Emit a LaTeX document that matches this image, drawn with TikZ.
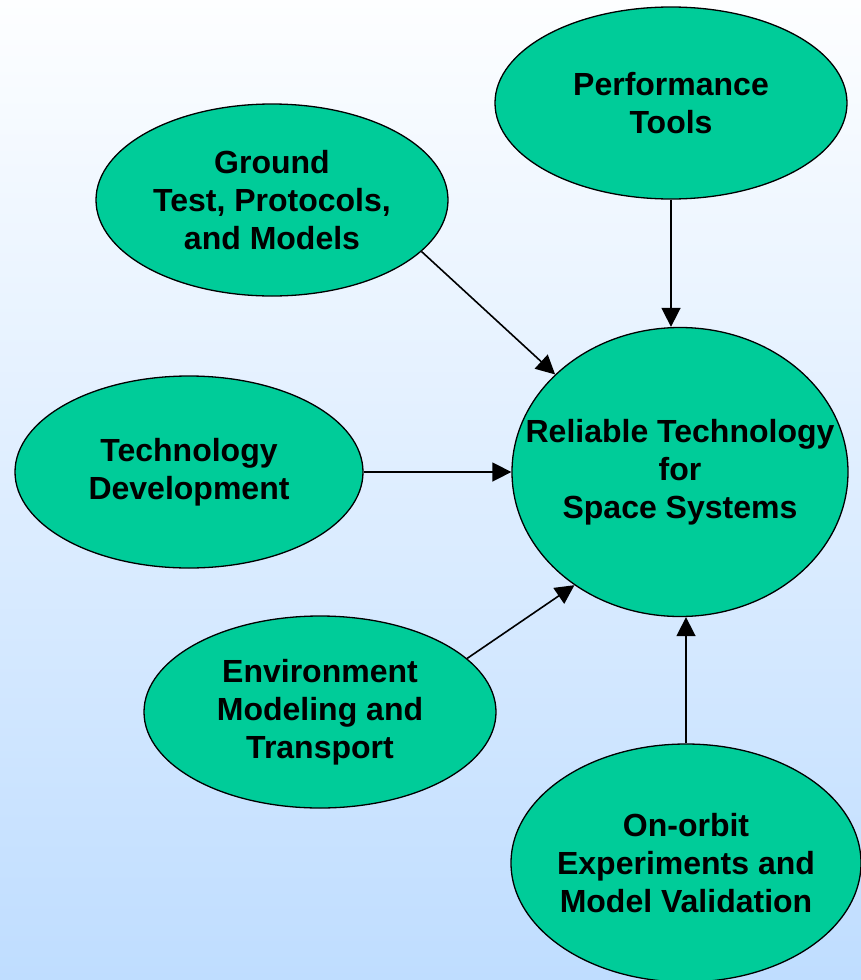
\documentclass[tikz,border=0pt]{standalone}
\usepackage{fontspec}
\setmainfont{Liberation Sans}
\usepackage{xcolor}
\usetikzlibrary{positioning,arrows.meta,shapes.geometric}
\definecolor{bubble}{RGB}{0,204,153}
\definecolor{skytop}{RGB}{253,254,255}
\definecolor{skybot}{RGB}{191,221,255}

\begin{document}
\begin{tikzpicture}[
  x=1pt,y=-1pt,
  font=\fontsize{32}{38}\selectfont\bfseries,
  blob/.style={draw,ellipse,fill=bubble,align=center,line width=1.3pt,
    minimum width=352pt,minimum height=192pt,inner sep=0pt,inner xsep=-30pt},
  ar/.style={-{Triangle[length=19pt,width=19pt]},line width=1.6pt}
]
\shade[top color=skytop,bottom color=skybot] (0,0) rectangle (861,980);
\useasboundingbox (0,0) rectangle (861,980);
\node[blob] (perf) at (671,103) {Performance\\Tools};
\node[blob] (gnd) at (272,200) {Ground\\Test, Protocols,\\and Models};
\node[blob,minimum width=336pt,minimum height=289pt,inner xsep=-60pt] (rel) at (680,472) {Reliable Technology\\for\\Space Systems};
\node[blob,minimum width=348pt] (tdev) at (189,472) {Technology\\Development};
\node[blob] (env) at (320,712) {Environment\\Modeling and\\Transport};
\node[blob,minimum width=350pt,minimum height=238pt] (orb) at (686,863) {On-orbit\\Experiments and\\Model Validation};
\draw[ar] (perf.south) -- (perf.south |- rel.north);
\draw[ar] (gnd.-19) -- (rel.142);
\draw[ar] (tdev.east) -- (rel.west);
\draw[ar] (env.20) -- (rel.227);
\draw[ar] (orb.north) -- (orb.north |- rel.south);
\end{tikzpicture}
\end{document}
